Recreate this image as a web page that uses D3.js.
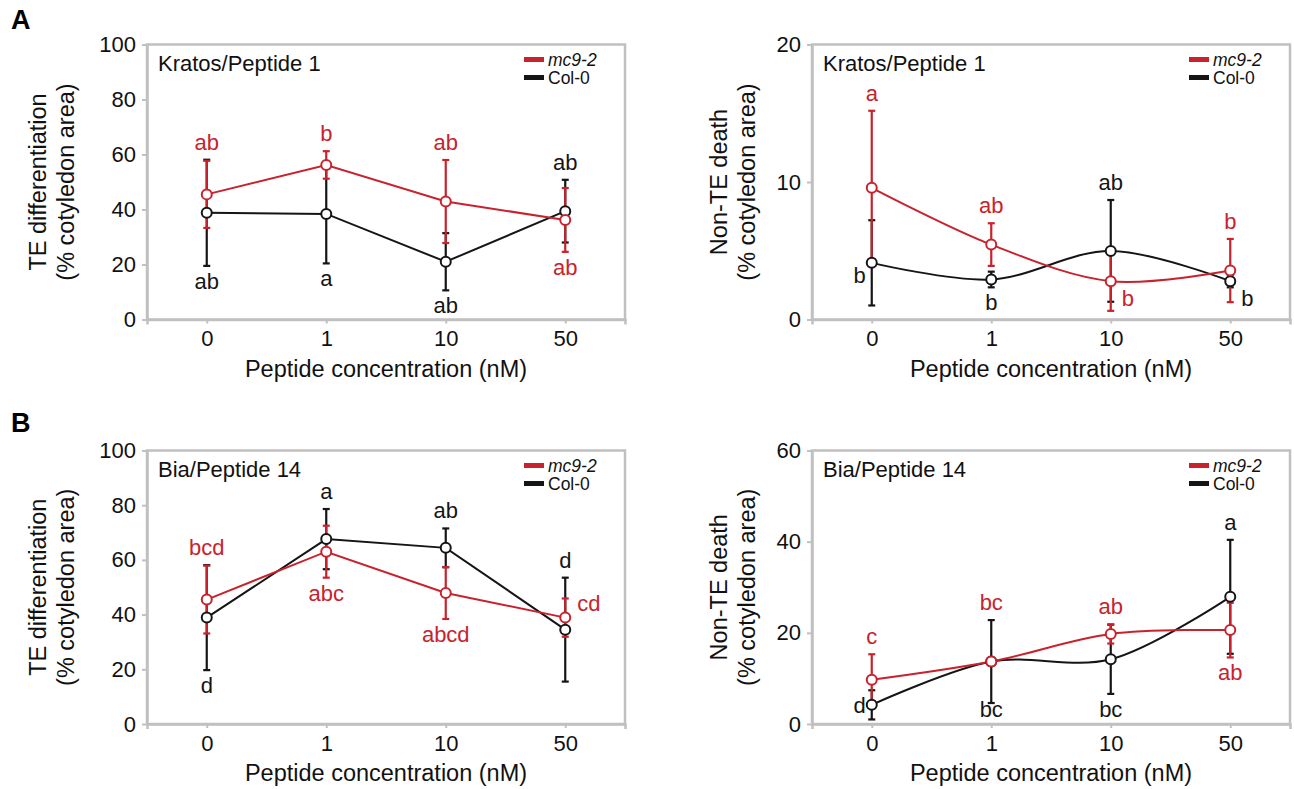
<!DOCTYPE html>
<html lang="en">
<head>
<meta charset="utf-8">
<title>TE differentiation and non-TE death</title>
<script src="https://cdnjs.cloudflare.com/ajax/libs/d3/7.8.5/d3.min.js"></script>
<style>
  body { margin: 0; background: #fff; }
</style>
</head>
<body>
<div class="chart"></div>
<script>

var concentrations = ["0", "1", "10", "50"];

// A, left: TE differentiation, Kratos/Peptide 1
var kratosTeMc9 = [45.5, 56.2, 42.9, 36.2];
var kratosTeMc9Err = [12.2, 5.0, 15.1, 11.6];
var kratosTeCol = [38.8, 38.4, 21.0, 39.4];
var kratosTeColErr = [19.3, 18.0, 10.4, 11.4];
var kratosTeMc9Letters = ["ab", "b", "ab", "ab"];
var kratosTeColLetters = ["ab", "a", "ab", "ab"];

// A, right: non-TE death, Kratos/Peptide 1
var kratosDeathMc9 = [9.58, 5.45, 2.79, 3.56];
var kratosDeathMc9Err = [5.6, 1.55, 2.16, 2.3];
var kratosDeathCol = [4.12, 2.91, 4.99, 2.79];
var kratosDeathColErr = [3.1, 0.57, 3.7, 0.45];
var kratosDeathMc9Letters = ["a", "ab", "b", "b"];
var kratosDeathColLetters = ["b", "b", "ab", "b"];

// B, left: TE differentiation, Bia/Peptide 14
var biaTeMc9 = [45.5, 63.0, 47.9, 38.9];
var biaTeMc9Err = [12.4, 9.5, 9.5, 7.0];
var biaTeCol = [38.9, 67.6, 64.4, 34.5];
var biaTeColErr = [19.2, 11.0, 7.1, 19.0];
var biaTeMc9Letters = ["bcd", "abc", "abcd", "cd"];
var biaTeColLetters = ["d", "a", "ab", "d"];

// B, right: non-TE death, Bia/Peptide 14
var biaDeathMc9 = [9.7, 13.7, 19.75, 20.6];
var biaDeathMc9Err = [5.6, 0.8, 2.1, 6.0];
var biaDeathCol = [4.2, 13.7, 14.2, 27.9];
var biaDeathColErr = [3.2, 9.1, 7.6, 12.5];
var biaDeathMc9Letters = ["c", "bc", "ab", "ab"];
var biaDeathColLetters = ["d", "bc", "bc", "a"];

var font = "'Liberation Sans', Arial, Helvetica, sans-serif";
var red = "#c8222d";
var black = "#151515";
var grey = "#c0c0c0";
var panelWidth = 478;

var svg = d3.select(".chart")
  .append("svg")
  .attr("width", 1294)
  .attr("height", 789)
  .style("font-family", font);

var panels = [
  {
    left: 147, top: 44.5, height: 275, yMax: 100, yTicks: [0, 20, 40, 60, 80, 100],
    title: "Kratos/Peptide 1", yTitle: ["TE differentiation", "(% cotyledon area)"], yTitleOffset: [101, 73],
    smooth: false,
    series: [
      { color: black, mean: kratosTeCol, err: kratosTeColErr, letters: kratosTeColLetters,
        sides: ["below", "below", "below", "above"] },
      { color: red, mean: kratosTeMc9, err: kratosTeMc9Err, letters: kratosTeMc9Letters,
        sides: ["above", "above", "above", "below"] }
    ]
  },
  {
    left: 812, top: 44.5, height: 275, yMax: 20, yTicks: [0, 10, 20],
    title: "Kratos/Peptide 1", yTitle: ["Non-TE death", "(% cotyledon area)"], yTitleOffset: [85, 57],
    smooth: true,
    series: [
      { color: black, mean: kratosDeathCol, err: kratosDeathColErr, letters: kratosDeathColLetters,
        sides: ["lowLeft", "below", "above", "lowRight"] },
      { color: red, mean: kratosDeathMc9, err: kratosDeathMc9Err, letters: kratosDeathMc9Letters,
        sides: ["above", "above", "lowRight", "above"] }
    ]
  },
  {
    left: 147, top: 450.5, height: 273.5, yMax: 100, yTicks: [0, 20, 40, 60, 80, 100],
    title: "Bia/Peptide 14", yTitle: ["TE differentiation", "(% cotyledon area)"], yTitleOffset: [101, 73],
    smooth: false,
    series: [
      { color: black, mean: biaTeCol, err: biaTeColErr, letters: biaTeColLetters,
        sides: ["below", "above", "above", "above"] },
      { color: red, mean: biaTeMc9, err: biaTeMc9Err, letters: biaTeMc9Letters,
        sides: ["above", "below", "below", "right"] }
    ]
  },
  {
    left: 812, top: 450.5, height: 273.5, yMax: 60, yTicks: [0, 20, 40, 60],
    title: "Bia/Peptide 14", yTitle: ["Non-TE death", "(% cotyledon area)"], yTitleOffset: [85, 57],
    smooth: true,
    series: [
      { color: black, mean: biaDeathCol, err: biaDeathColErr, letters: biaDeathColLetters,
        sides: ["left", "below", "below", "above"] },
      { color: red, mean: biaDeathMc9, err: biaDeathMc9Err, letters: biaDeathMc9Letters,
        sides: ["above", "above", "above", "below"] }
    ]
  }
];

// panel tags
svg.append("text").attr("x", 11).attr("y", 29).attr("font-size", 27).attr("font-weight", "bold").text("A");
svg.append("text").attr("x", 11).attr("y", 432).attr("font-size", 27).attr("font-weight", "bold").text("B");

panels.forEach(function (p) {
  var g = svg.append("g").attr("transform", `translate(${p.left},${p.top})`);

  var x = d3.scalePoint().domain(concentrations).range([0, panelWidth]).padding(0.5);
  var y = d3.scaleLinear().domain([0, p.yMax]).range([p.height, 0]);

  // frame
  g.append("rect")
    .attr("width", panelWidth)
    .attr("height", p.height)
    .attr("fill", "none")
    .attr("stroke", grey)
    .attr("stroke-width", 2.5);

  // axes
  var yAxis = g.append("g")
    .call(d3.axisLeft(y).tickValues(p.yTicks).tickSize(5).tickSizeOuter(0).tickPadding(6));
  var xAxis = g.append("g")
    .attr("transform", `translate(0,${p.height})`)
    .call(d3.axisBottom(x).tickSize(4).tickSizeOuter(5).tickPadding(7));
  [yAxis, xAxis].forEach(function (a) {
    a.attr("font-family", font).attr("font-size", 22);
    a.select(".domain").attr("stroke", grey).attr("stroke-width", 2.5);
    a.selectAll(".tick line").attr("stroke", grey).attr("stroke-width", 2);
    a.selectAll(".tick text").attr("fill", "#111");
  });

  // axis titles
  g.append("text")
    .attr("x", panelWidth / 2)
    .attr("y", p.height + 57)
    .attr("text-anchor", "middle")
    .attr("font-size", 23.5)
    .attr("fill", "#111")
    .text("Peptide concentration (nM)");

  p.yTitle.forEach(function (line, i) {
    g.append("text")
      .attr("transform", `translate(${-p.yTitleOffset[i]},${p.height / 2}) rotate(-90)`)
      .attr("text-anchor", "middle")
      .attr("font-size", 23.5)
      .attr("fill", "#111")
      .text(line);
  });

  // panel title
  g.append("text")
    .attr("x", 11)
    .attr("y", 26)
    .attr("font-size", 22)
    .attr("fill", "#111")
    .text(p.title);

  // legend
  var legend = [{ name: "mc9-2", color: red, italic: true }, { name: "Col-0", color: black, italic: false }];
  legend.forEach(function (d, i) {
    g.append("line")
      .attr("x1", panelWidth - 101).attr("x2", panelWidth - 81)
      .attr("y1", 15 + i * 18).attr("y2", 15 + i * 18)
      .attr("stroke", d.color)
      .attr("stroke-width", 5);
    g.append("text")
      .attr("x", panelWidth - 77)
      .attr("y", 21 + i * 18)
      .attr("font-size", 17.5)
      .attr("font-style", d.italic ? "italic" : "normal")
      .attr("fill", "#111")
      .text(d.name);
  });

  // error bars
  p.series.forEach(function (s) {
    var bars = g.append("g").attr("stroke", s.color).attr("stroke-width", 2.2);
    concentrations.forEach(function (c, i) {
      var cx = x(c);
      var y1 = y(s.mean[i] + s.err[i]);
      var y2 = y(s.mean[i] - s.err[i]);
      bars.append("line").attr("x1", cx).attr("x2", cx).attr("y1", y1).attr("y2", y2);
      bars.append("line").attr("x1", cx - 3.5).attr("x2", cx + 3.5).attr("y1", y1).attr("y2", y1);
      bars.append("line").attr("x1", cx - 3.5).attr("x2", cx + 3.5).attr("y1", y2).attr("y2", y2);
    });
  });

  // lines
  var line = d3.line()
    .x(function (d, i) { return x(concentrations[i]); })
    .y(function (d) { return y(d); })
    .curve(p.smooth ? d3.curveCatmullRom : d3.curveLinear);

  p.series.forEach(function (s) {
    g.append("path")
      .datum(s.mean)
      .attr("d", line)
      .attr("fill", "none")
      .attr("stroke", s.color)
      .attr("stroke-width", 2);
  });

  // markers
  p.series.forEach(function (s) {
    g.selectAll(null)
      .data(s.mean)
      .enter()
      .append("circle")
      .attr("cx", function (d, i) { return x(concentrations[i]); })
      .attr("cy", function (d) { return y(d); })
      .attr("r", 5)
      .attr("fill", "#fff")
      .attr("stroke", s.color)
      .attr("stroke-width", 2);
  });

  // significance letters
  p.series.forEach(function (s) {
    concentrations.forEach(function (c, i) {
      var cx = x(c);
      var cy = y(s.mean[i]);
      var top = d3.max(p.series, function (t) { return t.mean[i] + t.err[i]; });
      var bottom = d3.min(p.series, function (t) { return t.mean[i] - t.err[i]; });
      var side = s.sides[i];
      var tx = cx, ty, anchor = "middle";
      if (side === "above") {
        ty = y(top) - 10;
      } else if (side === "below") {
        ty = Math.min(y(bottom) + 23, p.height - 7);
      } else if (side === "left") {
        tx = cx - 6; ty = cy + 8; anchor = "end";
      } else if (side === "lowLeft") {
        tx = cx - 6; ty = cy + 20; anchor = "end";
      } else if (side === "right") {
        tx = cx + 12; ty = cy - 7; anchor = "start";
      } else {
        tx = cx + 11; ty = cy + 25; anchor = "start";
      }
      g.append("text")
        .attr("x", tx)
        .attr("y", ty)
        .attr("text-anchor", anchor)
        .attr("font-size", 22)
        .attr("fill", s.color)
        .text(s.letters[i]);
    });
  });
});

</script>
</body>
</html>
